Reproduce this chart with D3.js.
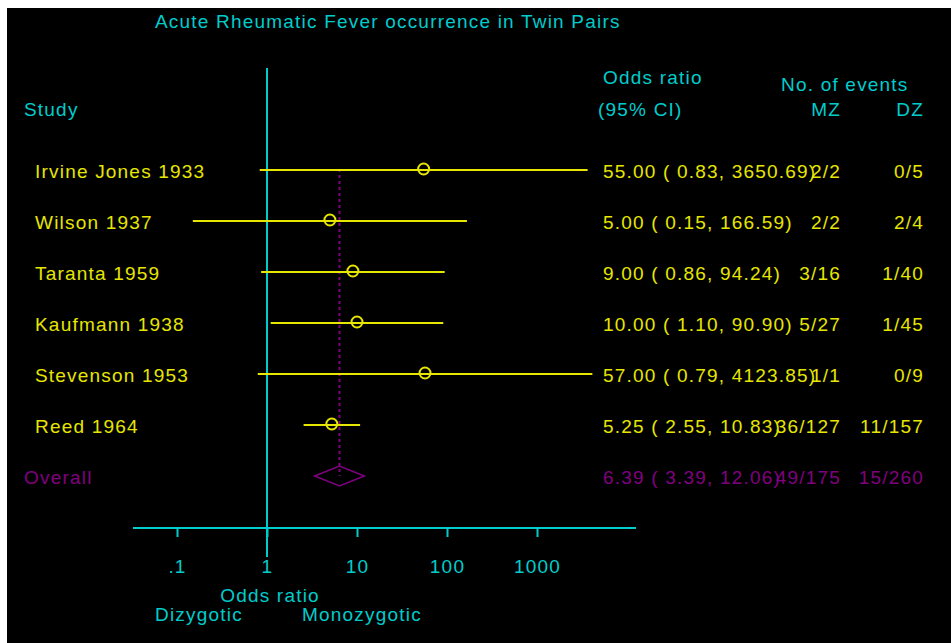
<!DOCTYPE html>
<html>
<head>
<meta charset="utf-8">
<script src="https://cdn.jsdelivr.net/npm/d3@7"></script>
<style>
  body { margin: 0; background: #fff; }
  svg text { font-family: "Liberation Sans", Arial, sans-serif; font-size: 19px; letter-spacing: 1.2px; }
</style>
</head>
<body>
<script>
var w = 951,
    h = 643;

var CYAN = '#00cccc',
    YELLOW = '#e6e600',
    PURPLE = '#800080';

// study rows
var studies = ['Irvine Jones 1933', 'Wilson 1937', 'Taranta 1959', 'Kaufmann 1938', 'Stevenson 1953', 'Reed 1964'];
var odds = [55.00, 5.00, 9.00, 10.00, 57.00, 5.25];
var lower = [0.83, 0.15, 0.86, 1.10, 0.79, 2.55];
var upper = [3650.69, 166.59, 94.24, 90.90, 4123.85, 10.83];
var mzEvents = ['2/2', '2/2', '3/16', '5/27', '1/1', '36/127'];
var dzEvents = ['0/5', '2/4', '1/40', '1/45', '0/9', '11/157'];

// pooled estimate
var overallOdds = 6.39,
    overallLower = 3.39,
    overallUpper = 12.06,
    overallMz = '49/175',
    overallDz = '15/260';

var tickValues = [0.1, 1, 10, 100, 1000];
var tickLabels = ['.1', '1', '10', '100', '1000'];

var svg = d3.select('body')
  .append('svg')
  .attr('width', w)
  .attr('height', h);

svg.append('rect')
  .attr('x', 7)
  .attr('y', 8)
  .attr('width', w - 7)
  .attr('height', h - 8)
  .attr('fill', '#000');

var x = d3.scaleLog()
  .domain([0.1, 1000])
  .range([177, 537]);

var y = d3.scaleLinear()
  .domain([0, 6])
  .range([170, 476]);

var f2 = d3.format('.2f');
function ciText(o, l, u) {
    return f2(o) + ' ( ' + f2(l) + ', ' + f2(u) + ')';
}

// title + headers
svg.append('text').attr('x', 155).attr('y', 28).attr('fill', CYAN)
  .text('Acute Rheumatic Fever occurrence in Twin Pairs');
svg.append('text').attr('x', 24).attr('y', 116).attr('fill', CYAN).text('Study');
svg.append('text').attr('x', 603).attr('y', 84).attr('fill', CYAN).text('Odds ratio');
svg.append('text').attr('x', 598).attr('y', 116).attr('fill', CYAN).text('(95% CI)');
svg.append('text').attr('x', 781).attr('y', 91).attr('fill', CYAN).text('No. of events');
svg.append('text').attr('x', 841).attr('y', 116).attr('fill', CYAN)
  .attr('text-anchor', 'end').text('MZ');
svg.append('text').attr('x', 924).attr('y', 116).attr('fill', CYAN)
  .attr('text-anchor', 'end').text('DZ');

// x axis
var axisY = 528;
var axis = d3.axisBottom(x)
  .tickValues(tickValues)
  .tickFormat(function(d, i) { return tickLabels[i]; })
  .tickSize(9)
  .tickSizeOuter(0)
  .tickPadding(23);

var ax = svg.append('g')
  .attr('transform', 'translate(0,' + axisY + ')')
  .call(axis);
ax.select('.domain').remove();
ax.selectAll('line').attr('stroke', CYAN).attr('stroke-width', 2);
ax.selectAll('text')
  .attr('fill', CYAN)
  .style('font-family', '"Liberation Sans", Arial, sans-serif')
  .style('font-size', '19px');

svg.append('line')
  .attr('x1', x(0.1) - 44).attr('x2', x(1000) + 99)
  .attr('y1', axisY).attr('y2', axisY)
  .attr('stroke', CYAN).attr('stroke-width', 2);

// line of no effect
svg.append('line')
  .attr('x1', x(1)).attr('x2', x(1))
  .attr('y1', 68).attr('y2', 557)
  .attr('stroke', CYAN).attr('stroke-width', 2);

svg.append('text').attr('x', x(1) + 3).attr('y', 602).attr('fill', CYAN)
  .attr('text-anchor', 'middle').text('Odds ratio');
svg.append('text').attr('x', 155).attr('y', 621).attr('fill', CYAN).text('Dizygotic');
svg.append('text').attr('x', 302).attr('y', 621).attr('fill', CYAN).text('Monozygotic');

// pooled estimate reference line
svg.append('line')
  .attr('x1', x(overallOdds)).attr('x2', x(overallOdds))
  .attr('y1', y(0) - 1).attr('y2', y(6))
  .attr('stroke', PURPLE).attr('stroke-width', 2)
  .attr('stroke-dasharray', '3,3');

// study rows
var rows = svg.selectAll('g.row')
  .data(studies)
  .enter()
  .append('g')
  .attr('class', 'row');

rows.append('line')
  .attr('x1', function(d, i) { return x(lower[i]); })
  .attr('x2', function(d, i) { return x(upper[i]); })
  .attr('y1', function(d, i) { return y(i); })
  .attr('y2', function(d, i) { return y(i); })
  .attr('stroke', YELLOW)
  .attr('stroke-width', 2);

rows.append('circle')
  .attr('cx', function(d, i) { return x(odds[i]); })
  .attr('cy', function(d, i) { return y(i) - 1; })
  .attr('r', 5.5)
  .attr('fill', 'none')
  .attr('stroke', YELLOW)
  .attr('stroke-width', 2);

rows.append('text')
  .attr('x', 35)
  .attr('y', function(d, i) { return y(i) + 8; })
  .attr('fill', YELLOW)
  .text(function(d) { return d; });

rows.append('text')
  .attr('x', 603)
  .attr('y', function(d, i) { return y(i) + 8; })
  .attr('fill', YELLOW)
  .text(function(d, i) { return ciText(odds[i], lower[i], upper[i]); });

rows.append('text')
  .attr('x', 841)
  .attr('y', function(d, i) { return y(i) + 8; })
  .attr('text-anchor', 'end')
  .attr('fill', YELLOW)
  .text(function(d, i) { return mzEvents[i]; });

rows.append('text')
  .attr('x', 924)
  .attr('y', function(d, i) { return y(i) + 8; })
  .attr('text-anchor', 'end')
  .attr('fill', YELLOW)
  .text(function(d, i) { return dzEvents[i]; });

// overall diamond
var oy = y(6);
svg.append('path')
  .attr('d', 'M' + x(overallLower) + ',' + oy +
             'L' + x(overallOdds) + ',' + (oy - 10) +
             'L' + x(overallUpper) + ',' + oy +
             'L' + x(overallOdds) + ',' + (oy + 10) + 'Z')
  .attr('fill', 'none')
  .attr('stroke', PURPLE)
  .attr('stroke-width', 1.5);

svg.append('text').attr('x', 24).attr('y', oy + 8).attr('fill', PURPLE).text('Overall');
svg.append('text').attr('x', 603).attr('y', oy + 8).attr('fill', PURPLE)
  .text(ciText(overallOdds, overallLower, overallUpper));
svg.append('text').attr('x', 841).attr('y', oy + 8).attr('fill', PURPLE)
  .attr('text-anchor', 'end').text(overallMz);
svg.append('text').attr('x', 924).attr('y', oy + 8).attr('fill', PURPLE)
  .attr('text-anchor', 'end').text(overallDz);
</script>
</body>
</html>
